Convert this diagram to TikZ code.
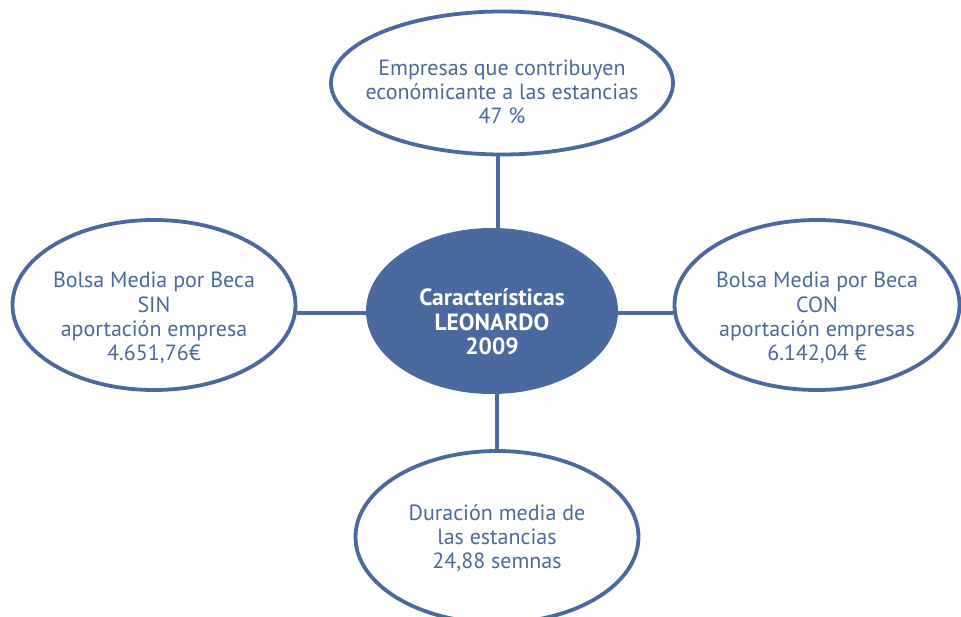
\documentclass[tikz,border=0pt]{standalone}
\usepackage{fontspec}
\setmainfont{PT Sans}
\usetikzlibrary{shapes.geometric}
\definecolor{leoblue}{HTML}{4A6A9F}
\tikzset{
  bubble/.style={ellipse,draw=leoblue,line width=3.8pt,fill=white,inner sep=0pt},
  bubbletext/.style={text=leoblue,align=center,inner sep=0pt,font=\fontsize{22}{24.2}\selectfont},
  hubstyle/.style={ellipse,fill=leoblue,inner sep=0pt},
  hubtext/.style={text=white,align=center,inner sep=0pt,font=\fontsize{23.5}{24.5}\selectfont\bfseries},
  link/.style={draw=leoblue,line width=3.5pt}
}
\begin{document}
\begin{tikzpicture}[x=1pt,y=1pt,yscale=-1,xscale=1]
\useasboundingbox (0,0) rectangle (961,616);

% centre
\node[hubstyle,minimum width=252,minimum height=166] (hub) at (492,311) {};
\node[hubtext] (hublabel) at ([yshift=11]hub.center) {Características\\LEONARDO\\2009};

% the four bubbles
\node[bubble,minimum width=342,minimum height=143] (top) at (502,83) {};
\node[bubble,minimum width=283,minimum height=170] (left) at (154,305) {};
\node[bubble,minimum width=285,minimum height=170] (right) at (817,305) {};
\node[bubble,minimum width=283,minimum height=172] (bottom) at (497,537) {};

\node[bubbletext] (toplabel) at ([yshift=9]top.center) {Empresas que contribuyen\\económicante a las estancias\\47 \%};
\node[bubbletext] (leftlabel) at ([yshift=13]left.center) {Bolsa Media por Beca\\SIN\\aportación empresa\\4.651,76€};
\node[bubbletext] (rightlabel) at ([yshift=13]right.center) {Bolsa Media por Beca\\CON\\aportación empresas\\6.142,04 €};
\node[bubbletext] (bottomlabel) at ([yshift=1]bottom.center) {Duración media de\\las estancias\\24,88 semnas};

% links
\draw[link] (top.south -| 498,0) -- (498,0 |- hub.north);
\draw[link] (hub.south -| 497,0) -- (497,0 |- bottom.north);
\draw[link] (left.east |- 0,313) -- (hub.west |- 0,313);
\draw[link] (hub.east |- 0,313) -- (right.west |- 0,313);

\end{tikzpicture}
\end{document}
